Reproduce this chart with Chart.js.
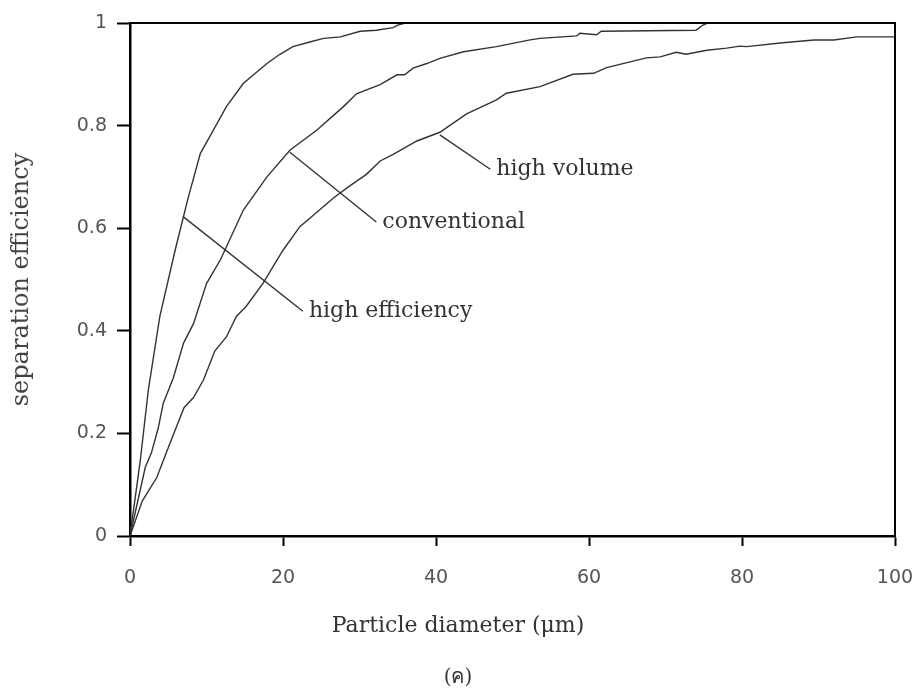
<!DOCTYPE html>
<html>
<head>
<meta charset="utf-8">
<title>Separation efficiency</title>
<script src="https://cdn.jsdelivr.net/npm/chart.js@4"></script>
<style>
  html, body { margin: 0; padding: 0; background: #fff; }
  #wrap { position: relative; width: 917px; height: 691px; }
  .axis-title, #caption {
    position: absolute; text-align: center; color: #333;
    font-family: "DejaVu Serif", serif; white-space: nowrap;
  }
  #x-title { left: 258px; width: 400px; top: 612px; font-size: 22px; }
  #caption { left: 358px; width: 200px; top: 660px; font-size: 20px; }
</style>
</head>
<body>
<div id="wrap">
  <canvas id="chart" width="917" height="691"></canvas>
  <div id="x-title" class="axis-title">Particle diameter (μm)</div>
  <div id="caption">(ค)</div>
</div>
<script>
// Cyclone efficiency curves: particle diameter (um) vs separation efficiency
const highEffX = [0, 1.35, 2.4, 3.9, 5.9, 7.0, 7.6, 9.2, 10.9, 12.6, 14.8, 17.9, 19.6, 21.3, 23.5, 25.3, 27.5, 30.1, 32.2, 34.4, 35.0, 36.0, 100];
const highEffY = [0, 0.148, 0.285, 0.428, 0.557, 0.623, 0.659, 0.746, 0.791, 0.837, 0.882, 0.921, 0.939, 0.954, 0.963, 0.970, 0.973, 0.984, 0.986, 0.991, 0.996, 1, 1];

const convX = [0, 2.0, 2.8, 3.7, 4.35, 5.66, 7.0, 8.3, 10.0, 11.8, 12.4, 14.8, 17.9, 20.9, 24.4, 27.9, 29.6, 32.7, 34.9, 35.9, 37.0, 38.8, 40.5, 43.6, 47.9, 52.3, 53.6, 58.4, 58.8, 61.0, 61.6, 74.0, 74.9, 75.5, 100];
const convY = [0, 0.134, 0.162, 0.211, 0.259, 0.308, 0.376, 0.414, 0.492, 0.538, 0.557, 0.635, 0.700, 0.752, 0.791, 0.837, 0.862, 0.880, 0.899, 0.899, 0.912, 0.921, 0.931, 0.944, 0.954, 0.967, 0.970, 0.975, 0.980, 0.977, 0.984, 0.986, 0.996, 1, 1];

const highVolX = [0, 1.6, 3.5, 5.2, 7.06, 8.3, 9.6, 11.1, 12.6, 13.9, 15.2, 17.4, 20.0, 22.2, 24.5, 26.6, 28.5, 30.9, 32.7, 34.4, 37.5, 40.5, 44.0, 47.9, 49.2, 53.6, 57.9, 60.6, 62.3, 67.5, 69.3, 71.4, 72.7, 75.4, 78.0, 79.7, 80.6, 85.0, 89.4, 92.0, 95.0, 100];
const highVolY = [0, 0.068, 0.114, 0.180, 0.250, 0.270, 0.304, 0.361, 0.388, 0.428, 0.448, 0.493, 0.557, 0.603, 0.632, 0.659, 0.680, 0.705, 0.731, 0.744, 0.770, 0.787, 0.823, 0.850, 0.863, 0.876, 0.900, 0.902, 0.913, 0.932, 0.934, 0.943, 0.939, 0.947, 0.951, 0.955, 0.954, 0.961, 0.967, 0.967, 0.973, 0.973];

// leader lines: [x0, y0, x1, y1] and label text placed at the line end
const labelNames = ['high efficiency', 'conventional', 'high volume'];
const leaderLines = [
  [6.9, 0.623, 22.6, 0.438],
  [20.9, 0.748, 32.2, 0.612],
  [40.5, 0.782, 47.1, 0.715]
];

const xTicks = [0, 20, 40, 60, 80, 100];
const yTicks = [0, 0.2, 0.4, 0.6, 0.8, 1];

const toPoints = (xs, ys) => xs.map((x, i) => ({ x: x, y: ys[i] }));

const curveStyle = {
  borderColor: '#333',
  borderWidth: 1.4,
  pointRadius: 0,
  tension: 0,
  fill: false
};

const datasets = [
  Object.assign({ label: 'high efficiency', data: toPoints(highEffX, highEffY) }, curveStyle),
  Object.assign({ label: 'conventional', data: toPoints(convX, convY) }, curveStyle),
  Object.assign({ label: 'high volume', data: toPoints(highVolX, highVolY) }, curveStyle)
];
leaderLines.forEach((l, i) => {
  datasets.push(Object.assign({
    label: labelNames[i] + ' leader',
    data: [{ x: l[0], y: l[1] }, { x: l[2], y: l[3] }]
  }, curveStyle));
});

// labels next to the leader lines, plus top/right frame
const labelPlugin = {
  id: 'curveLabels',
  afterDatasetsDraw(chart) {
    const { ctx, scales: { x, y }, chartArea } = chart;
    ctx.save();
    ctx.font = '22px "DejaVu Serif", serif';
    ctx.fillStyle = '#333';
    ctx.textAlign = 'left';
    ctx.textBaseline = 'middle';
    leaderLines.forEach((l, i) => {
      ctx.fillText(labelNames[i], x.getPixelForValue(l[2]) + 6, y.getPixelForValue(l[3]));
    });
    ctx.strokeStyle = '#000';
    ctx.lineWidth = 2;
    ctx.beginPath();
    ctx.moveTo(chartArea.left, chartArea.top);
    ctx.lineTo(chartArea.right, chartArea.top);
    ctx.lineTo(chartArea.right, chartArea.bottom);
    ctx.stroke();
    ctx.restore();
  }
};

const tickFont = { family: 'DejaVu Sans', size: 19 };

new Chart(document.getElementById('chart'), {
  type: 'line',
  data: { datasets: datasets },
  plugins: [labelPlugin],
  options: {
    responsive: false,
    animation: false,
    devicePixelRatio: 1,
    layout: { padding: { top: 23, right: 22, left: 0, bottom: 0 } },
    plugins: { legend: { display: false }, tooltip: { enabled: false } },
    scales: {
      x: {
        type: 'linear',
        min: 0,
        max: 100,
        afterFit: s => { s.height = 155; s.paddingLeft = 0; s.paddingRight = 0; },
        afterBuildTicks: s => { s.ticks = xTicks.map(v => ({ value: v })); },
        border: { display: true, color: '#000', width: 2.5 },
        grid: { drawOnChartArea: false, drawTicks: true, tickLength: 10, tickColor: '#000', tickWidth: 2 },
        ticks: { padding: 21, color: '#555', font: tickFont, callback: v => String(v) }
      },
      y: {
        min: 0,
        max: 1,
        afterFit: s => { s.width = 130; s.paddingTop = 0; s.paddingBottom = 0; },
        afterBuildTicks: s => { s.ticks = yTicks.map(v => ({ value: v })); },
        border: { display: true, color: '#000', width: 2.5 },
        grid: { drawOnChartArea: false, drawTicks: true, tickLength: 13, tickColor: '#000', tickWidth: 2 },
        ticks: { padding: 10, color: '#555', font: tickFont, callback: v => String(v) },
        title: {
          display: true,
          text: 'separation efficiency',
          color: '#444',
          font: { family: 'DejaVu Serif', size: 24 },
          padding: { top: 7, bottom: 0 }
        }
      }
    }
  }
});
</script>
</body>
</html>
